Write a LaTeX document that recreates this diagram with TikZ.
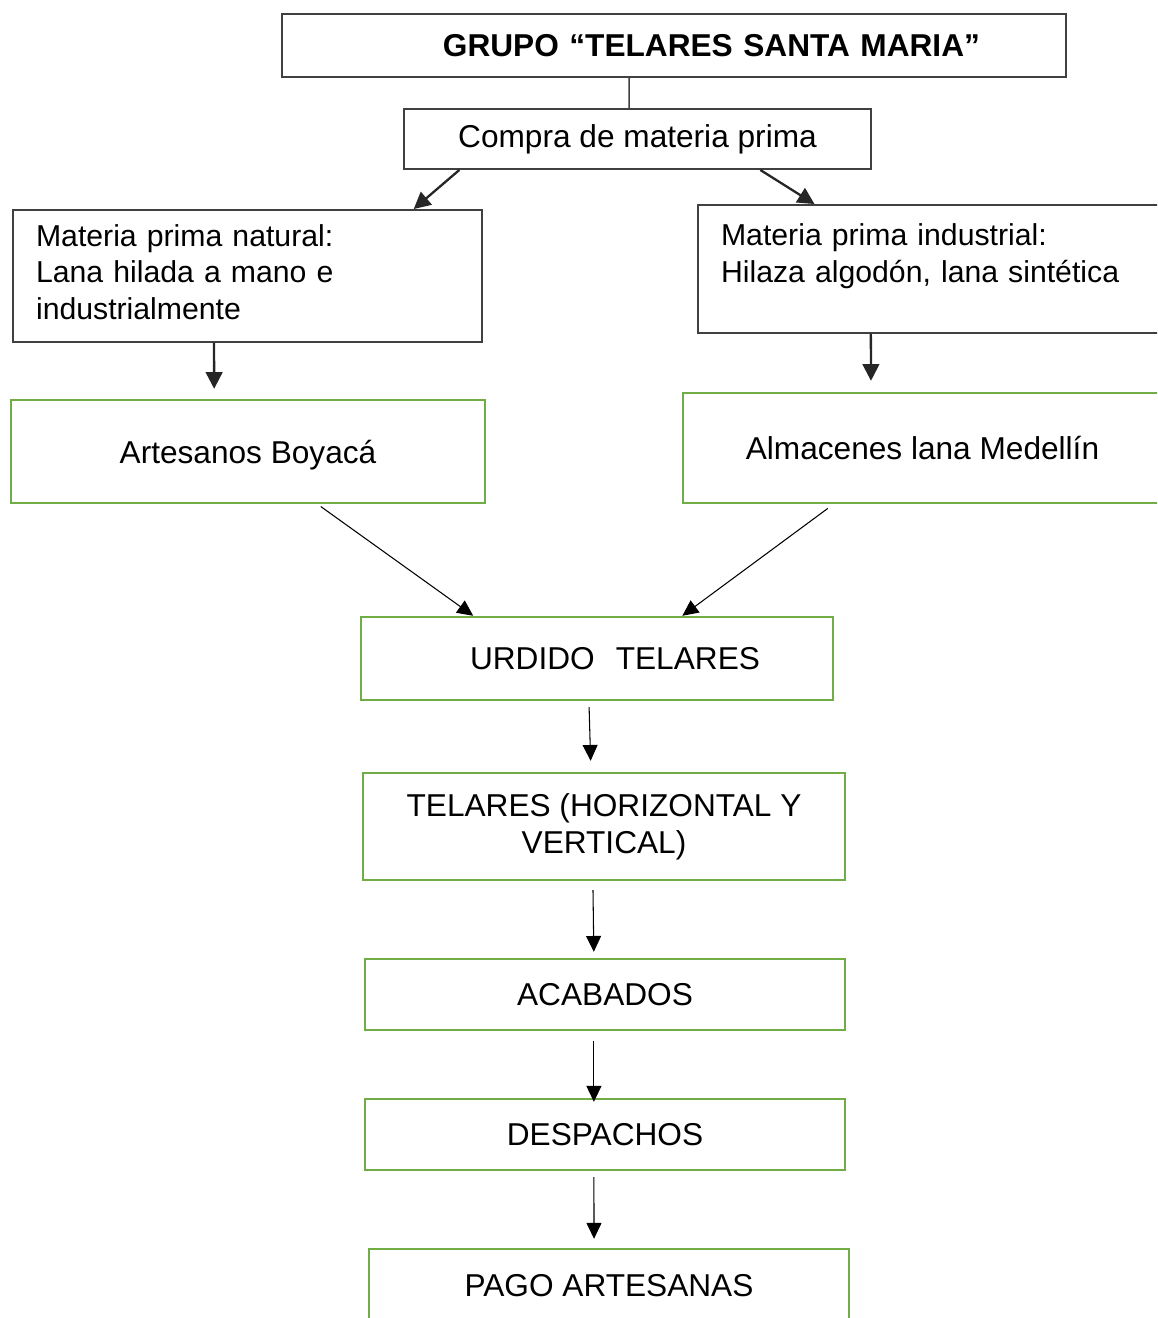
\documentclass[tikz,border=0pt]{standalone}
\usepackage{fontspec}
\setmainfont{Liberation Sans}
\usetikzlibrary{arrows.meta,calc}
\definecolor{boxgreen}{RGB}{112, 173, 71}
\definecolor{boxgray}{RGB}{64, 64, 64}

\begin{document}
\begin{tikzpicture}[x=0.02cm, y=-0.02cm,
    every node/.style={font=\fontsize{18}{21}\selectfont, inner sep=0pt},
    graybox/.style={draw=boxgray, line width=1.1pt, rectangle},
    greenbox/.style={draw=boxgreen, line width=1.4pt, rectangle},
    bigarrow/.style={draw=black!85, line width=1.3pt, -{Triangle[length=9.5pt, width=9.5pt]}},
    thinarrow/.style={draw=black, line width=0.6pt, -{Triangle[length=9pt, width=8.5pt]}}]
                    \useasboundingbox (0,0) rectangle (1157,1318);
                    \clip (0,0) rectangle (1157,1318);
                    \node[graybox, minimum width=15.68cm, minimum height=1.26cm, inner xsep=1.72cm, text width=12.24cm, align=right, font=\fontsize{18}{21}\selectfont\bfseries] (grupo) at (674,45.5) {GRUPO “TELARES SANTA MARIA”};
                    \node[graybox, minimum width=9.34cm, minimum height=1.2cm] (compra) at (637.5,139) {Compra de materia prima};
                    \node[graybox, minimum width=9.38cm, minimum height=2.64cm, inner xsep=0.46cm, text width=8.46cm, align=left, font=\fontsize{17.2}{21}\selectfont] (natural) at (247.5,276) {Materia prima natural:\\Lana hilada a mano e\\industrialmente\\[-16.5pt]\mbox{}};
                    \node[graybox, minimum width=9.28cm, minimum height=2.56cm, inner xsep=0.46cm, text width=8.36cm, align=left, font=\fontsize{17.2}{21}\selectfont] (industrial) at (930,269) {Materia prima industrial:\\Hilaza algodón, lana sintética\\[-2.8pt]\mbox{}};
                    \node[greenbox, minimum width=9.48cm, minimum height=2.06cm, text depth=0pt] (artesanos) at (248,451.5) {Artesanos Boyacá};
                    \node[greenbox, minimum width=9.58cm, minimum height=2.2cm] (almacenes) at (922.5,448) {Almacenes lana Medellín};
                    \node[greenbox, minimum width=9.44cm, minimum height=1.66cm, inner xsep=1.46cm, text width=6.52cm, align=right] (urdido) at (597,658.5) {URDIDO~~TELARES};
                    \node[greenbox, minimum width=9.64cm, minimum height=2.14cm, align=center] (telares) at (604,826.5) {TELARES (HORIZONTAL Y\\VERTICAL)};
                    \node[greenbox, minimum width=9.6cm, minimum height=1.42cm] (acabados) at (605,994.5) {ACABADOS};
                    \node[greenbox, minimum width=9.6cm, minimum height=1.42cm] (despachos) at (605,1134.5) {DESPACHOS};
                    \node[greenbox, minimum width=9.6cm, minimum height=1.48cm] (pago) at (609,1286) {PAGO ARTESANAS};
                    % upper part
                    \draw[boxgray, line width=0.9pt] ($(grupo.south west)!0.443!(grupo.south east)$) -- ($(compra.north west)!0.482!(compra.north east)$);
                    \draw[bigarrow] ($(compra.south west)!0.12!(compra.south east)$) -- ($(natural.north west)!0.853!(natural.north east)$);
                    \draw[bigarrow] ($(compra.south west)!0.762!(compra.south east)$) -- ($(industrial.north west)!0.252!(industrial.north east)$);
                    \draw[bigarrow, shorten >=0.2cm] ($(natural.south west)!0.429!(natural.south east)$) -- ($(artesanos.north west)!0.429!(artesanos.north east)$);
                    \draw[bigarrow, shorten >=0.22cm] ($(industrial.south west)!0.373!(industrial.south east)$) -- ($(almacenes.north west)!0.393!(almacenes.north east)$);
                    % lower part
                    \draw[thinarrow, shorten <=0.08cm] ($(artesanos.south west)!0.646!(artesanos.south east)$) -- ($(urdido.north west)!0.239!(urdido.north east)$);
                    \draw[thinarrow, shorten <=0.14cm] ($(almacenes.south west)!0.315!(almacenes.south east)$) -- ($(urdido.north west)!0.68!(urdido.north east)$);
                    \draw[thinarrow, shorten <=0.12cm, shorten >=0.22cm] ($(urdido.south west)!0.483!(urdido.south east)$) -- ($(telares.north west)!0.473!(telares.north east)$);
                    \draw[thinarrow, shorten <=0.18cm, shorten >=0.12cm] ($(telares.south west)!0.477!(telares.south east)$) -- ($(acabados.north west)!0.477!(acabados.north east)$);
                    \draw[thinarrow, shorten <=0.2cm, shorten >=-0.08cm] ($(acabados.south west)!0.477!(acabados.south east)$) -- ($(despachos.north west)!0.477!(despachos.north east)$);
                    \draw[thinarrow, shorten <=0.12cm, shorten >=0.18cm] ($(despachos.south west)!0.477!(despachos.south east)$) -- ($(pago.north west)!0.469!(pago.north east)$);
                \end{tikzpicture}
\end{document}
